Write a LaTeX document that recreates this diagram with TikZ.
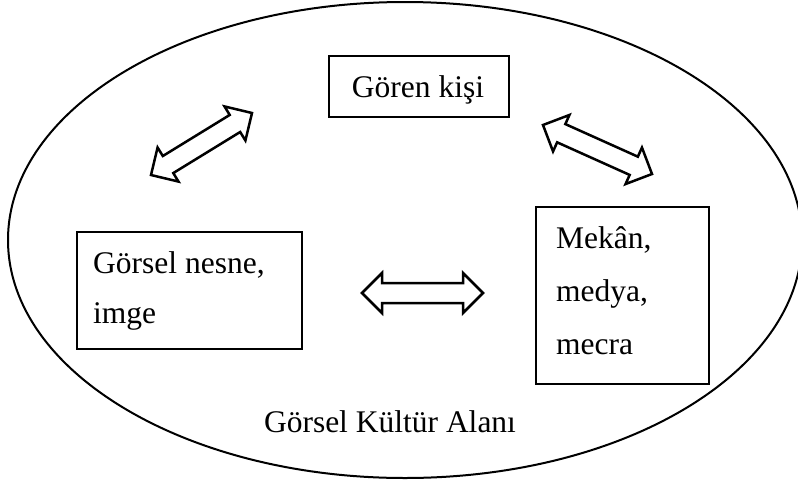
\documentclass[tikz,border=0pt]{standalone}
\usepackage{fontspec}
\setmainfont{Liberation Serif}
\usetikzlibrary{calc,shapes.geometric}
\tikzset{
  box/.style={draw, line width=1.2pt, inner sep=0pt},
  lbl/.style={font=\fontsize{31.5}{50}\selectfont, inner sep=0pt},
  lblm/.style={font=\fontsize{31.5}{53}\selectfont, inner sep=0pt},
  barrow/.style={draw, line width=2.5pt, line join=miter, fill=white},
  field/.style={draw, ellipse, line width=2pt, inner sep=0pt},
}
\newcommand\hl{20pt}
\newcommand\hw{20pt}
\newcommand\sw{10pt}
\newcommand\blockarrow[2]{%
  \coordinate (ba1) at ($(#1)!\hl!(#2)$);
  \coordinate (ba2) at ($(#2)!\hl!(#1)$);
  \draw[barrow] (#1)
    -- ($(ba1)!\hw!90:(#2)$)
    -- ($(ba1)!\sw!90:(#2)$)
    -- ($(ba2)!\sw!-90:(#1)$)
    -- ($(ba2)!\hw!-90:(#1)$)
    -- (#2)
    -- ($(ba2)!\hw!90:(#1)$)
    -- ($(ba2)!\sw!90:(#1)$)
    -- ($(ba1)!\sw!-90:(#2)$)
    -- ($(ba1)!\hw!-90:(#2)$)
    -- cycle;}
\begin{document}
\begin{tikzpicture}[x=1pt,y=-1pt]
\useasboundingbox (0,0) rectangle (798,483);
% field
\node[field, minimum width=794pt, minimum height=476pt] (field) at (405,240) {};
% boxes
\node[box, minimum width=180pt, minimum height=61pt] (goren) at (419,86.5) {};
\node[box, minimum width=225pt, minimum height=117pt] (nesne) at (189.5,290.5) {};
\node[box, minimum width=173pt, minimum height=177pt] (mekan) at (622.5,295.5) {};
% texts
\node[lbl, anchor=base] (gorent) at (418,97) {Gören kişi};
\node[lbl, anchor=base west, align=left] (nesnet) at (93,323) {Görsel nesne,\\imge};
\node[lblm, anchor=base west, align=left] (mekant) at (556,354) {Mekân,\\medya,\\mecra};
\node[lbl, anchor=base] (alan) at (390,432) {Görsel Kültür Alanı};
% arrows
\coordinate (a1s) at (151,175);
\coordinate (a1e) at (252,113);
\coordinate (a2s) at (543,125);
\coordinate (a2e) at (652,174);
\coordinate (a3s) at (362,293);
\coordinate (a3e) at (483,293);
\blockarrow{a1s}{a1e}
\blockarrow{a2s}{a2e}
\blockarrow{a3s}{a3e}
\end{tikzpicture}
\end{document}
